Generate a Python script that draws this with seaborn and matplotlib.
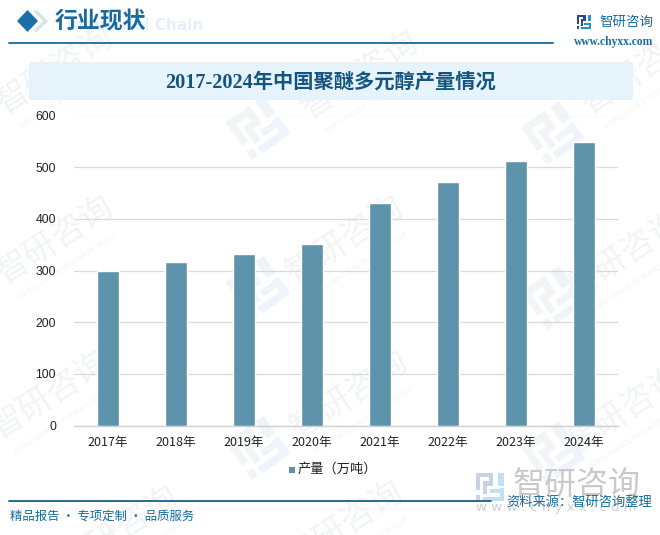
import matplotlib
matplotlib.use("Agg")
import matplotlib.pyplot as plt
from matplotlib.patches import Polygon, Rectangle
from matplotlib.transforms import Affine2D
import pandas as pd
import seaborn as sns

years = ["2017年", "2018年", "2019年", "2020年", "2021年", "2022年", "2023年", "2024年"]
output = [300, 316, 331, 352, 430, 471, 512, 548]
yticks = [0, 100, 200, 300, 400, 500, 600]
series_name = "产量（万吨）"

sns.set_theme(style="white")
CJK = ["Noto Sans CJK SC", "DejaVu Sans"]
SERIF = ["Liberation Serif", "Noto Sans CJK SC"]
plt.rcParams["font.family"] = CJK

W, H = 660, 535
fig = plt.figure(figsize=(W / 100, H / 100), dpi=100, facecolor="white")

# page overlay in pixel coordinates
bg = fig.add_axes([0, 0, 1, 1], zorder=0)
bg.set_xlim(0, W); bg.set_ylim(H, 0); bg.axis("off")

def logo(ax, x, y, s, c1, c2, z=1, rot=None):
    """Small square-spiral brand logo; (x,y) top-left, s size."""
    tr = ax.transData
    if rot is not None:
        tr = Affine2D().rotate_deg_around(x + s / 2, y + s / 2, rot) + ax.transData
    parts = [
        (0, 0, .62, .16, c1), (0, 0, .16, .62, c1), (.46, 0, .16, .45, c1),
        (.25, .30, .37, .15, c1), (0, .78, .16, .22, c1), (.25, .30, .15, .45, c1),
        (.78, 0, .22, .45, c2), (.25, .84, .75, .16, c2), (.84, .55, .16, .45, c2),
        (.5, .58, .34, .14, c2),
    ]
    for px, py, pw, ph, c in parts:
        ax.add_patch(Rectangle((x + px * s, y + py * s), pw * s, ph * s, fc=c, ec="none",
                               zorder=z, transform=tr))

# diagonal watermarks
wm = "#f2f3f4"
for (x, y) in [(55, 70), (360, 75), (640, 70), (55, 240), (345, 240), (625, 255),
               (50, 395), (350, 395), (625, 410), (345, 525), (120, 530)]:
    bg.text(x, y, "智研咨询", fontsize=24, color=wm, rotation=33, ha="center", va="center", zorder=1)
    bg.text(x + 14, y + 26, "INTELLIGENCE RESEARCH GROUP", fontsize=5, color=wm, rotation=33,
            ha="center", va="center", zorder=1, family="DejaVu Sans")
for (x, y) in [(235, 105), (530, 110), (235, 265), (530, 275), (235, 425), (530, 430)]:
    logo(bg, x, y, 46, "#f2f4f6", "#eef4f9", rot=-35)

# header
bg.add_patch(Polygon([(17, 21), (27.5, 10), (38, 21), (27.5, 32)], fc="#1a6fa8", ec="none", zorder=3))
bg.add_patch(Polygon([(33, 10.5), (37, 10), (48, 21), (37, 32), (33, 31), (43, 21)], fc="#d3e4ef", ec="none", zorder=2))
bg.text(67, 26, "Industrial Chain", fontsize=11, color="#e3f0f9", fontweight="bold",
        family="DejaVu Sans", va="center", zorder=1)
bg.text(55, 22.5, "行业现状", fontsize=16.5, color="#1a6a9e", va="center", fontweight="bold",
        family=SERIF, zorder=3)
bg.plot([9, 553], [42.5, 42.5], color="#156a9c", lw=1.3, zorder=3)
logo(bg, 577, 15, 14, "#2b4a86", "#2b8fd4", z=3)
bg.text(599, 22, "智研咨询", fontsize=9.7, color="#1a6a9e", va="center", zorder=3)
bg.text(573.5, 41.5, "www.chyxx.com", fontsize=8.3, color="#1a6a9e", va="center", fontweight="bold",
        family="Liberation Serif", zorder=3)

# title band
bg.add_patch(Rectangle((29, 62), 604, 38, fc="#e6f3fb", ec="none", zorder=2))
bg.text(331, 83, "2017-2024年中国聚醚多元醇产量情况", fontsize=14.6, color="#14557f", ha="center",
        va="center", fontweight="bold", family=SERIF, zorder=3)

# footer
logo(bg, 476, 473, 28, "#c6d3e4", "#c4def2", z=1)
bg.text(513, 485, "智研咨询", fontsize=23, color="#c9c9c9", va="center", zorder=1)
bg.text(476, 508, "w w w . c h y x x . c o m", fontsize=9.6, color="#cfcfcf", va="center",
        family="DejaVu Sans", zorder=1)
bg.plot([9, 491], [501, 501], color="#156189", lw=1.3, zorder=3)
bg.text(9.5, 516.5, "精品报告 · 专项定制 · 品质服务", fontsize=8.9, color="#156a9c", va="center", zorder=3)
bg.text(506, 502, "资料来源：智研咨询整理", fontsize=9.5, color="#156a9c", va="center", zorder=3)

# chart
x0, x1, ytop, ybot = 74, 618, 115.5, 425.5
ax = fig.add_axes([x0 / W, 1 - ybot / H, (x1 - x0) / W, (ybot - ytop) / H], zorder=2)
ax.patch.set_alpha(0)
df = pd.DataFrame({"year": years, "value": output})
sns.barplot(data=df, x="year", y="value", color="#5e93ac", saturation=1, width=0.31, ax=ax, zorder=3)
ax.set_xlim(-0.5, len(years) - 0.5)
ax.set_ylim(yticks[0], yticks[-1])
ax.set_yticks(yticks)
ax.set_xlabel(""); ax.set_ylabel("")
ax.grid(axis="y", color="#d9d9d9", lw=0.9, zorder=0)
ax.grid(axis="x", visible=False)
ax.set_axisbelow(True)
for s in ["top", "left", "right"]:
    ax.spines[s].set_visible(False)
ax.spines["bottom"].set_color("#d0d0d0")
ax.spines["bottom"].set_linewidth(1)
ax.tick_params(axis="both", length=0, labelsize=9, labelcolor="#222222")
ax.tick_params(axis="x", pad=7.5)
ax.tick_params(axis="y", pad=13)
for t in ax.get_yticklabels():
    t.set_fontfamily("Liberation Sans"); t.set_fontsize(8.8)

# legend
bg.add_patch(Rectangle((289, 466.5), 6, 6, fc="#5e93ac", ec="none", zorder=3))
bg.text(298, 469.5, series_name, fontsize=9.5, color="#222222", va="center", zorder=3)

fig.savefig("out.png", dpi=100)
